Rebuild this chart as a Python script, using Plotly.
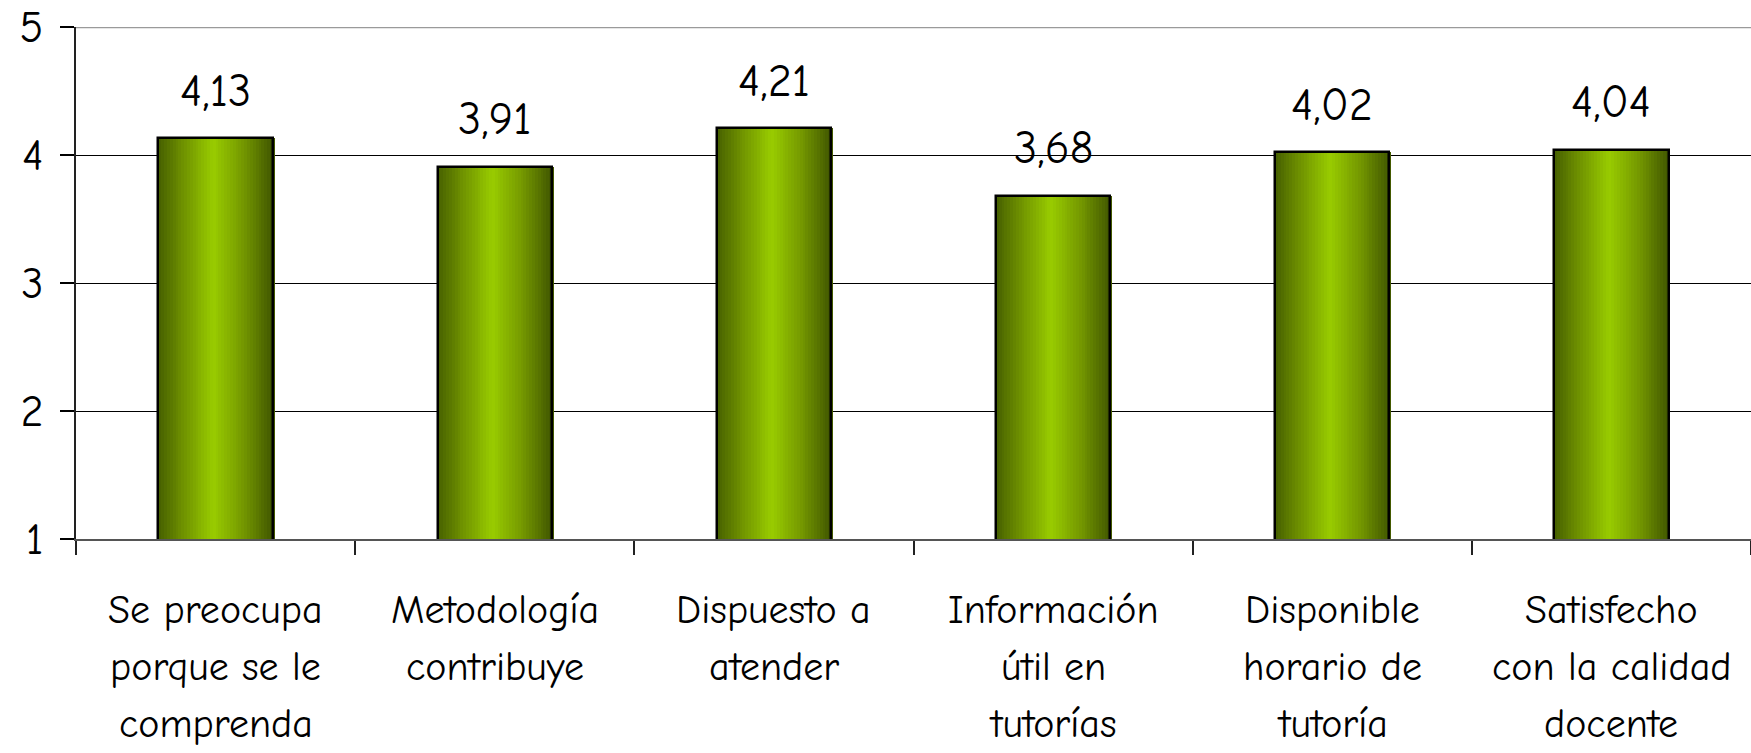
import plotly.graph_objects as go

# Survey items (one list entry per displayed line of the label)
categories = [
    "Se preocupa porque se le comprenda",
    "Metodología contribuye",
    "Dispuesto a atender",
    "Información útil en tutorías",
    "Disponible horario de tutoría",
    "Satisfecho con la calidad docente",
]
label_lines = [
    ["Se preocupa", "porque se le", "comprenda"],
    ["Metodología", "contribuye"],
    ["Dispuesto a", "atender"],
    ["Información", "útil en", "tutorías"],
    ["Disponible", "horario de", "tutoría"],
    ["Satisfecho", "con la calidad", "docente"],
]
scores = [4.13, 3.91, 4.21, 3.68, 4.02, 4.04]

FONT = "Comic Sans MS, Comic Neue, Lato, sans-serif"
BAR_W = 0.41
N_SLICES = 40

# horizontal shading across each bar: (position 0..1, rgb)
stops = [
    (0.00, (70, 95, 0)),
    (0.20, (108, 142, 0)),
    (0.48, (153, 204, 0)),
    (0.75, (115, 150, 0)),
    (1.00, (64, 86, 0)),
]


def shade(t):
    for (t0, c0), (t1, c1) in zip(stops[:-1], stops[1:]):
        if t0 <= t <= t1:
            f = (t - t0) / (t1 - t0)
            r, g, b = (round(a + (b_ - a) * f) for a, b_ in zip(c0, c1))
            return f"rgb({r},{g},{b})"
    r, g, b = stops[-1][1]
    return f"rgb({r},{g},{b})"


fig = go.Figure()
step = BAR_W / N_SLICES
for i in range(N_SLICES):
    t = (i + 0.5) / N_SLICES
    fig.add_trace(go.Bar(
        x=categories, y=scores,
        width=step * 1.6, offset=-BAR_W / 2 + i * step,
        marker=dict(color=shade(t), line=dict(width=0)),
        hoverinfo="skip", showlegend=False,
    ))

# outline of each bar
fig.add_trace(go.Bar(
    x=categories, y=scores, width=BAR_W,
    marker=dict(color="rgba(0,0,0,0)", line=dict(color="black", width=2.5)),
    showlegend=False,
))

# value labels above the bars
for c, v in zip(categories, scores):
    fig.add_annotation(
        x=c, y=v, xref="x", yref="y", text=f"{v:.2f}".replace(".", ","),
        showarrow=False, yshift=47, yanchor="middle",
        font=dict(family=FONT, size=46, color="black"),
    )

# category labels, one line at a time
for c, lines in zip(categories, label_lines):
    for j, line in enumerate(lines):
        fig.add_annotation(
            x=c, y=0, xref="x", yref="paper", text=line,
            showarrow=False, yshift=-71 - 57 * j, yanchor="middle",
            font=dict(family=FONT, size=40, color="black"),
            borderpad=0,
        )

# frame line along the top of the plot
fig.add_shape(type="line", xref="paper", yref="y", x0=0, x1=1, y0=5, y1=5,
              line=dict(color="#9a9a9a", width=2.5), layer="above")

fig.update_layout(
    width=1751, height=753,
    margin=dict(l=76, r=0, t=27, b=214),
    paper_bgcolor="white", plot_bgcolor="white",
    barmode="overlay", bargap=0,
    font=dict(family=FONT, size=44, color="black"),
    xaxis=dict(
        type="category", showticklabels=False,
        ticks="outside", tickson="boundaries", ticklen=14,
        tickcolor="#222", tickwidth=1.5,
        showline=True, linecolor="#555", linewidth=2,
        showgrid=False, range=[-0.5, 5.5],
    ),
    yaxis=dict(
        range=[1, 5], tickvals=[1, 2, 3, 4, 5],
        ticks="outside", ticklen=14, tickcolor="black", tickwidth=1.5,
        showline=True, linecolor="#222", linewidth=1.5,
        showgrid=True, gridcolor="black", gridwidth=1.3,
        zeroline=False, ticklabelstandoff=8,
        tickfont=dict(family=FONT, size=44, color="black"),
    ),
)

fig.write_html("out.html")
